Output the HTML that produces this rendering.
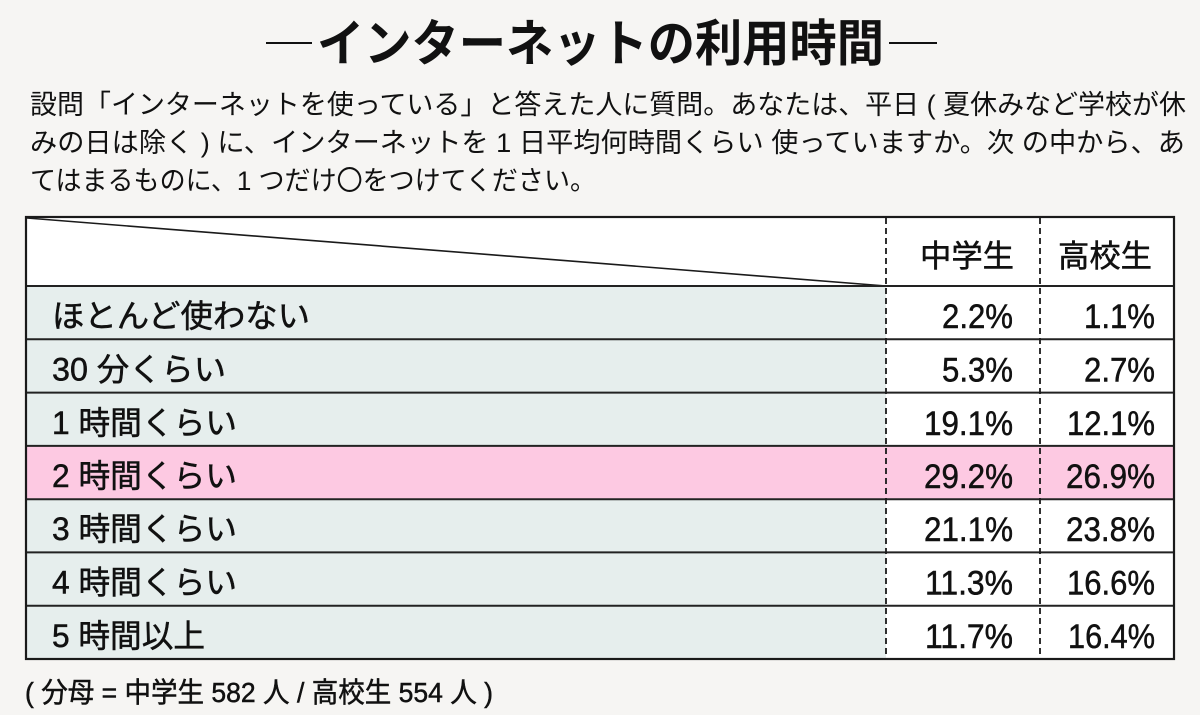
<!DOCTYPE html>
<html>
<head>
<meta charset="utf-8">
<style>
  html,body{margin:0;padding:0;background:#f6f5f3;}
  svg{display:block;}
  text{font-family:"Liberation Sans","Noto Sans CJK JP",sans-serif;fill:#111;}
  .jp{font-family:"Noto Sans CJK JP","Liberation Sans",sans-serif;}
  .thick{stroke:#111;stroke-width:0.5px;}
</style>
</head>
<body>
<svg width="1200" height="715" viewBox="0 0 1200 715" xmlns="http://www.w3.org/2000/svg">
  <rect x="0" y="0" width="1200" height="715" fill="#f6f5f3"/>

  <!-- Title -->
  <line x1="266" y1="43" x2="312" y2="43" stroke="#111" stroke-width="2"/>
  <line x1="889" y1="43" x2="937" y2="43" stroke="#111" stroke-width="2"/>
  <text x="317" y="61" font-size="50" font-weight="700" textLength="567" lengthAdjust="spacingAndGlyphs">インターネットの利用時間</text>

  <!-- Question -->
  <text x="30" y="114" font-size="27" textLength="1156" lengthAdjust="spacingAndGlyphs">設問「インターネットを使っている」と答えた人に質問。あなたは、平日 ( 夏休みなど学校が休</text>
  <text x="30" y="152" font-size="27" textLength="1155" lengthAdjust="spacingAndGlyphs">みの日は除く ) に、インターネットを 1 日平均何時間くらい 使っていますか。次 の中から、あ</text>
  <text x="30" y="190" font-size="27" textLength="566" lengthAdjust="spacingAndGlyphs">てはまるものに、1 つだけ<tspan class="jp">〇</tspan>をつけてください。</text>

  <!-- Table background -->
  <rect x="26" y="217" width="1148" height="442" fill="#ffffff"/>
  <rect x="26" y="286" width="860" height="373" fill="#e6eeed"/>
  <rect x="26" y="445.9" width="1148" height="53.3" fill="#fdc9e2"/>

  <!-- diagonal -->
  <line x1="27" y1="218" x2="886" y2="286" stroke="#1a1a1a" stroke-width="1.6"/>

  <!-- horizontal lines -->
  <g stroke="#222" stroke-width="2">
    <line x1="26" y1="286" x2="1174" y2="286"/>
    <line x1="26" y1="339.3" x2="1174" y2="339.3"/>
    <line x1="26" y1="392.6" x2="1174" y2="392.6"/>
    <line x1="26" y1="445.9" x2="1174" y2="445.9"/>
    <line x1="26" y1="499.2" x2="1174" y2="499.2"/>
    <line x1="26" y1="552.4" x2="1174" y2="552.4"/>
    <line x1="26" y1="605.7" x2="1174" y2="605.7"/>
  </g>

  <!-- dashed vertical dividers -->
  <g stroke="#1a1a1a" stroke-width="1.8" stroke-dasharray="6 4">
    <line x1="886" y1="218" x2="886" y2="658"/>
    <line x1="1040" y1="218" x2="1040" y2="658"/>
  </g>

  <!-- outer border -->
  <rect x="26" y="217" width="1148" height="442" fill="none" stroke="#1a1a1a" stroke-width="2.2"/>

  <!-- Header -->
  <text class="thick" x="920" y="267" font-size="31" textLength="94" lengthAdjust="spacingAndGlyphs">中学生</text>
  <text class="thick" x="1058" y="267" font-size="31" textLength="94" lengthAdjust="spacingAndGlyphs">高校生</text>

  <!-- Row labels -->
  <g font-size="32" class="thick">
    <text x="52" y="327" textLength="258" lengthAdjust="spacingAndGlyphs">ほとんど使わない</text>
    <text x="52" y="380.5" textLength="174" lengthAdjust="spacingAndGlyphs">30 分くらい</text>
    <text x="52" y="434" textLength="185" lengthAdjust="spacingAndGlyphs">1 時間くらい</text>
    <text x="52" y="487" textLength="185" lengthAdjust="spacingAndGlyphs">2 時間くらい</text>
    <text x="52" y="540" textLength="185" lengthAdjust="spacingAndGlyphs">3 時間くらい</text>
    <text x="52" y="593.5" textLength="185" lengthAdjust="spacingAndGlyphs">4 時間くらい</text>
    <text x="52" y="647" textLength="153" lengthAdjust="spacingAndGlyphs">5 時間以上</text>
  </g>

  <!-- Values 中学生 -->
  <g font-size="34" class="thick">
    <text x="942" y="328" textLength="71" lengthAdjust="spacingAndGlyphs">2.2%</text>
    <text x="942" y="381.5" textLength="71" lengthAdjust="spacingAndGlyphs">5.3%</text>
    <text x="924" y="435" textLength="89" lengthAdjust="spacingAndGlyphs">19.1%</text>
    <text x="924" y="488" textLength="89" lengthAdjust="spacingAndGlyphs">29.2%</text>
    <text x="924" y="541" textLength="89" lengthAdjust="spacingAndGlyphs">21.1%</text>
    <text x="925" y="594.5" textLength="88" lengthAdjust="spacingAndGlyphs">11.3%</text>
    <text x="925" y="648" textLength="88" lengthAdjust="spacingAndGlyphs">11.7%</text>
  </g>

  <!-- Values 高校生 -->
  <g font-size="34" class="thick">
    <text x="1084" y="328" textLength="71" lengthAdjust="spacingAndGlyphs">1.1%</text>
    <text x="1084" y="381.5" textLength="71" lengthAdjust="spacingAndGlyphs">2.7%</text>
    <text x="1067" y="435" textLength="88" lengthAdjust="spacingAndGlyphs">12.1%</text>
    <text x="1066" y="488" textLength="89" lengthAdjust="spacingAndGlyphs">26.9%</text>
    <text x="1066" y="541" textLength="89" lengthAdjust="spacingAndGlyphs">23.8%</text>
    <text x="1067" y="594.5" textLength="88" lengthAdjust="spacingAndGlyphs">16.6%</text>
    <text x="1068" y="648" textLength="87" lengthAdjust="spacingAndGlyphs">16.4%</text>
  </g>

  <!-- Footer -->
  <text class="thick" x="25" y="702" font-size="28" textLength="468" lengthAdjust="spacingAndGlyphs">( 分母 = 中学生 582 人 / 高校生 554 人 )</text>
</svg>
</body>
</html>
